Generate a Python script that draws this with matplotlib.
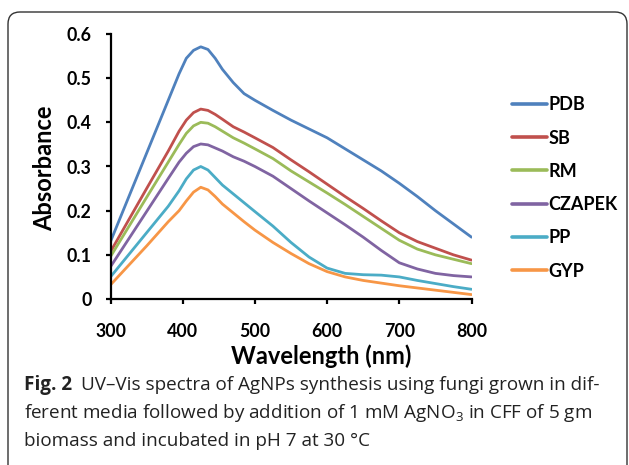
import matplotlib
matplotlib.use("Agg")
import matplotlib.pyplot as plt
from matplotlib.patches import FancyBboxPatch
from matplotlib.transforms import IdentityTransform

# wavelengths (nm) and absorbance
wavelength = [300, 350, 380, 395, 405, 415, 425, 435, 445, 455, 470, 485, 500,
              525, 550, 575, 600, 625, 650, 675, 700, 725, 750, 775, 800]
pdb = [0.13, 0.33, 0.45, 0.51, 0.545, 0.563, 0.571, 0.565, 0.545, 0.52, 0.49, 0.465, 0.45,
       0.427, 0.405, 0.385, 0.365, 0.34, 0.315, 0.29, 0.262, 0.232, 0.20, 0.17, 0.14]
sb = [0.107, 0.25, 0.335, 0.38, 0.405, 0.422, 0.43, 0.427, 0.418, 0.407, 0.39, 0.378, 0.365,
      0.343, 0.315, 0.288, 0.26, 0.232, 0.205, 0.177, 0.15, 0.13, 0.115, 0.10, 0.088]
rm = [0.096, 0.23, 0.31, 0.35, 0.375, 0.392, 0.40, 0.398, 0.39, 0.38, 0.365, 0.353, 0.34,
      0.318, 0.29, 0.265, 0.24, 0.214, 0.187, 0.16, 0.133, 0.113, 0.10, 0.09, 0.08]
czapek = [0.073, 0.198, 0.273, 0.31, 0.33, 0.345, 0.351, 0.349, 0.342, 0.335, 0.322, 0.312, 0.30,
          0.278, 0.25, 0.222, 0.195, 0.168, 0.14, 0.11, 0.082, 0.068, 0.058, 0.053, 0.05]
pp = [0.05, 0.15, 0.21, 0.245, 0.272, 0.292, 0.30, 0.292, 0.275, 0.258, 0.238, 0.218, 0.198,
      0.165, 0.128, 0.095, 0.07, 0.058, 0.055, 0.054, 0.05, 0.042, 0.035, 0.028, 0.022]
gyp = [0.032, 0.12, 0.175, 0.20, 0.222, 0.242, 0.253, 0.247, 0.232, 0.215, 0.195, 0.175, 0.156,
       0.128, 0.103, 0.08, 0.062, 0.05, 0.042, 0.036, 0.03, 0.025, 0.02, 0.015, 0.01]

series = [
    ("PDB", pdb, "#4F81BD"),
    ("SB", sb, "#C0504D"),
    ("RM", rm, "#9BBB59"),
    ("CZAPEK", czapek, "#8064A2"),
    ("PP", pp, "#4BACC6"),
    ("GYP", gyp, "#F79646"),
]

W, H = 629, 465
plt.rcParams["mathtext.fontset"] = "custom"
plt.rcParams["mathtext.rm"] = "Open Sans"

fig = plt.figure(figsize=(W / 100, H / 100), dpi=100)
ax = fig.add_axes([110.5 / W, 1 - 299 / H, 361 / W, 265 / H])

for name, vals, color in series:
    ax.plot(wavelength, vals, color=color, lw=2.0, label=name,
            solid_capstyle="round", solid_joinstyle="round")

ax.set_xlim(300, 800)
ax.set_ylim(0, 0.6)
ax.set_xticks([300, 400, 500, 600, 700, 800])
ax.set_yticks([0, 0.1, 0.2, 0.3, 0.4, 0.5, 0.6])
ax.set_yticklabels(["0", "0.1", "0.2", "0.3", "0.4", "0.5", "0.6"])
for side in ("top", "right"):
    ax.spines[side].set_visible(False)
for side in ("left", "bottom"):
    ax.spines[side].set_linewidth(1.6)
ax.tick_params(direction="out", length=3.5, width=1.6, labelsize=12.8, pad=10)
for lab in ax.get_xticklabels() + ax.get_yticklabels():
    lab.set_fontfamily("Lato")
    lab.set_fontweight("bold")
ax.tick_params(axis="x", pad=14)

fig.text(45 / W, 1 - 168 / H, "Absorbance", rotation=90, ha="center", va="center",
         fontsize=17, fontweight="bold", family="Lato")
fig.text(321 / W, 1 - 356 / H, "Wavelength (nm)", ha="center", va="center",
         fontsize=17, fontweight="bold", family="Lato")

leg = fig.legend(loc="upper left", bbox_to_anchor=(496 / W, 1 - 80 / H), frameon=False,
                 handlelength=1.9, handletextpad=0.1, labelspacing=0.9,
                 prop={"family": "Lato", "weight": "bold", "size": 13})
for line in leg.get_lines():
    line.set_linewidth(2.6)

# rounded frame round the figure
frame = FancyBboxPatch((8, -30), 619, H - 12 + 30, boxstyle="round,pad=0,rounding_size=12",
                       transform=IdentityTransform(), fill=False, ec="#333333", lw=1.0)
fig.add_artist(frame)

# caption
cap_kw = dict(fontsize=13.6, family="Open Sans", va="center", color="#222222")
fig_lab = fig.text(24 / W, 1 - 385 / H, "Fig. 2", fontweight="bold", **cap_kw)
fig.canvas.draw()
bb = fig_lab.get_window_extent()
fig.text((bb.x1 + 9) / W, 1 - 385 / H,
         "UV\u2013Vis spectra of AgNPs synthesis using fungi grown in dif-", **cap_kw)
fig.text(24 / W, 1 - 413 / H,
         r"ferent media followed by addition of 1 mM AgNO$_\mathregular{3}$ in CFF of 5 gm", **cap_kw)
fig.text(24 / W, 1 - 441 / H, "biomass and incubated in pH 7 at 30 \u00b0C", **cap_kw)

fig.savefig("out.png", dpi=100)
